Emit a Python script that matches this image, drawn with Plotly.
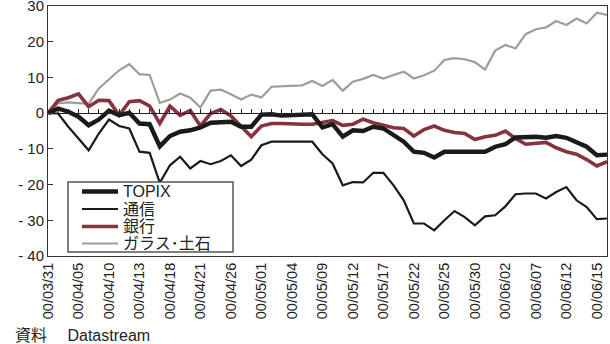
import pandas as pd
import plotly.graph_objects as go

# Business days covered by the series (00/03/31 - 00/06/16)
dates = pd.bdate_range("2000-03-31", "2000-06-16").strftime("%y/%m/%d").tolist()

# Tick labels shown on the date axis (every third business day)
tick_labels = [
    "00/03/31", "00/04/05", "00/04/10", "00/04/13", "00/04/18", "00/04/21",
    "00/04/26", "00/05/01", "00/05/04", "00/05/09", "00/05/12", "00/05/17",
    "00/05/22", "00/05/25", "00/05/30", "00/06/02", "00/06/07", "00/06/12",
    "00/06/15",
]

# Cumulative change since 00/03/31 (%)
topix = [
    0.0, 1.3, 0.4, -1.0, -3.4, -1.8, 0.7, -0.6, 0.1, -2.9,
    -3.1, -9.3, -6.4, -5.2, -4.8, -4.0, -2.7, -2.6, -2.4, -3.8,
    -3.8, -0.4, -0.3, -0.7, -0.5, -0.4, -0.3, -4.0, -3.1, -6.6,
    -4.8, -5.0, -3.8, -4.3, -6.2, -8.0, -10.8, -11.1, -12.4, -10.8,
    -10.8, -10.8, -10.8, -10.8, -9.4, -8.7, -6.8, -6.6, -6.6, -6.9,
    -6.4, -6.9, -8.0, -9.4, -11.8, -11.6,
]
tsushin = [
    0.0, -0.1, -3.8, -7.1, -10.4, -5.7, -1.8, -3.6, -4.3, -10.8,
    -11.1, -19.5, -14.6, -12.2, -15.5, -13.4, -14.3, -13.4, -11.8, -14.8,
    -13.0, -9.0, -8.0, -8.0, -8.0, -8.0, -8.0, -11.5, -14.1, -20.2,
    -19.3, -19.4, -16.7, -16.7, -20.2, -24.4, -30.9, -30.9, -32.8, -30.0,
    -27.4, -29.1, -31.4, -28.9, -28.6, -26.1, -22.7, -22.5, -22.5, -23.9,
    -22.1, -20.7, -24.4, -26.3, -29.7, -29.5,
]
ginko = [
    0.0, 3.6, 4.3, 5.4, 1.8, 3.6, 3.5, -0.6, 3.2, 3.5,
    2.0, -2.9, 2.0, -0.6, 0.7, -3.6, -0.1, 1.0, -0.8, -3.6,
    -6.6, -3.6, -2.9, -2.9, -3.1, -3.1, -3.1, -2.7, -2.1, -3.4,
    -3.1, -1.7, -2.7, -3.4, -4.1, -4.3, -6.4, -4.6, -3.6, -4.8,
    -5.4, -5.7, -7.4, -6.6, -6.2, -5.0, -7.1, -8.7, -8.5, -8.2,
    -9.7, -10.8, -11.5, -13.0, -14.8, -13.6,
]
glass = [
    0.0, 2.8, 3.0, 2.8, 2.6, 6.9, 9.5, 12.0, 13.7, 10.9,
    10.7, 2.9, 3.8, 5.5, 4.3, 1.6, 6.3, 6.6, 5.3, 3.8,
    5.2, 4.4, 7.4, 7.6, 7.6, 7.8, 9.0, 7.6, 9.3, 6.3,
    8.8, 9.6, 10.7, 9.7, 10.7, 11.6, 9.7, 10.6, 11.9, 14.9,
    15.4, 15.1, 14.3, 12.2, 17.5, 19.1, 18.1, 22.1, 23.5, 24.0,
    25.8, 24.7, 26.5, 25.1, 28.1, 27.5,
]

y_ticks = [30, 20, 10, 0, -10, -20, -30, -40]
y_tick_text = ["30", "20", "10", "0", "-\u00a010", "-\u00a020", "-\u00a030", "-\u00a040"]

FONT = "Liberation Sans, Arial, Noto Sans CJK JP, sans-serif"
INK = "#222222"

# Figure geometry (pixels)
W, H = 610, 344
ML, MR, MT, MB = 48, 3, 6, 88
PW, PH = W - ML - MR, H - MT - MB


def px(x):
    """Horizontal pixel position -> paper fraction."""
    return (x - ML) / PW


def py(y):
    """Vertical pixel position (from top) -> paper fraction."""
    return (H - MB - y) / PH


# name, values, colour, line width (legend order)
series = [
    ("TOPIX", topix, "#1a1a1a", 4.4),
    ("通信", tsushin, "#1a1a1a", 2.2),
    ("銀行", ginko, "#85343f", 3.6),
    ("ガラス･土石", glass, "#9d9d9d", 2.2),
]

fig = go.Figure()
# draw the grey series first so the others sit on top of it
for name, vals, color, width in reversed(series):
    fig.add_trace(go.Scatter(
        x=dates, y=vals, name=name, mode="lines",
        line=dict(color=color, width=width), showlegend=False,
    ))

# Zero line carrying a tick at every business day
fig.add_trace(go.Scatter(
    x=list(range(len(dates))), y=[None] * len(dates), xaxis="x2",
    showlegend=False, hoverinfo="skip", mode="lines",
))

# Legend box drawn in paper space with tighter row spacing
shapes = [dict(
    type="rect", xref="paper", yref="paper",
    x0=px(68), x1=px(233), y0=py(252), y1=py(182),
    line=dict(color="#555555", width=1.5), fillcolor="white", layer="above",
)]
annotations = []
row_y = [191.5, 209, 226.5, 243.5]
for (name, _vals, color, width), ry in zip(series, row_y):
    shapes.append(dict(
        type="line", xref="paper", yref="paper",
        x0=px(82), x1=px(118), y0=py(ry), y1=py(ry),
        line=dict(color=color, width=width), layer="above",
    ))
    annotations.append(dict(
        text=name, xref="paper", yref="paper", x=px(121), y=py(ry),
        xanchor="left", yanchor="middle", showarrow=False,
        font=dict(family=FONT, size=16, color=INK),
    ))

annotations.append(dict(
    text="資料　 Datastream", xref="paper", yref="paper",
    x=px(13), y=py(335), xanchor="left", yanchor="middle",
    showarrow=False, font=dict(family=FONT, size=16, color=INK),
))

fig.update_layout(
    width=W, height=H,
    margin=dict(l=ML, r=MR, t=MT, b=MB, autoexpand=False),
    paper_bgcolor="white", plot_bgcolor="white",
    showlegend=False,
    xaxis=dict(
        type="category", range=[0, len(dates) - 1],
        tickmode="array", tickvals=tick_labels, ticktext=tick_labels,
        tickangle=-90, ticks="", automargin=False,
        tickfont=dict(family=FONT, size=14.5, color=INK),
        showline=True, linecolor="#333333", linewidth=1, mirror=True,
        showgrid=False, zeroline=False,
    ),
    xaxis2=dict(
        overlaying="x", anchor="free", position=4 / 7, side="bottom",
        range=[0, len(dates) - 1], tickmode="linear", tick0=0, dtick=1,
        ticks="inside", ticklen=4, tickcolor=INK, tickwidth=1,
        showticklabels=False, showline=True, linecolor=INK,
        linewidth=1, showgrid=False, zeroline=False, automargin=False,
    ),
    yaxis=dict(
        range=[-40, 30], tickmode="array", tickvals=y_ticks,
        ticktext=y_tick_text, ticks="inside", ticklen=5,
        tickcolor="#333333", ticklabeloverflow="allow", automargin=False,
        tickfont=dict(family=FONT, size=15, color=INK),
        showline=True, linecolor="#333333", linewidth=1, mirror=True,
        showgrid=False, zeroline=False,
    ),
    shapes=shapes,
    annotations=annotations,
)

fig.write_html("out.html")
